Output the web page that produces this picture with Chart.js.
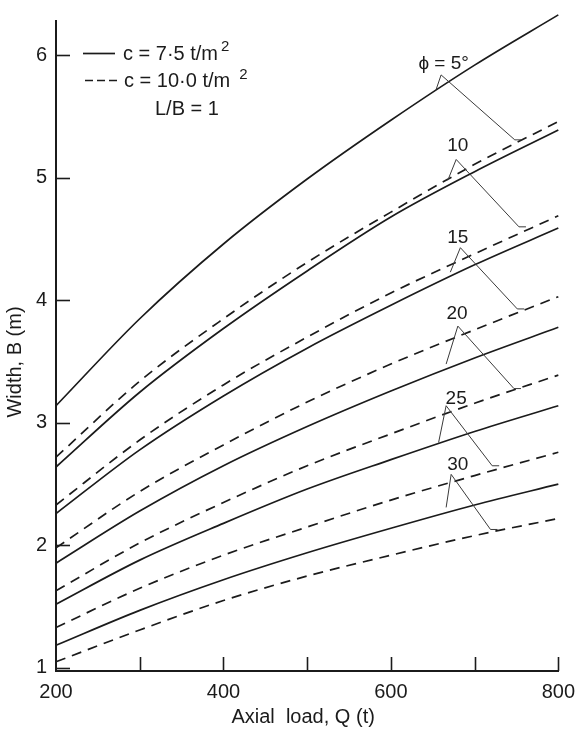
<!DOCTYPE html>
<html>
<head>
<meta charset="utf-8">
<script src="https://cdn.jsdelivr.net/npm/chart.js@4"></script>
<style>
  html, body { margin: 0; padding: 0; background: #fff; }
  #wrap { width: 584px; height: 730px; position: relative; }
</style>
</head>
<body>
<div id="wrap"><canvas id="chart" width="584" height="730"></canvas></div>
<script>
// Axial load Q (t)
const loads = [200, 300, 400, 500, 600, 700, 800];

// Width B (m) for c = 7.5 t/m² (solid lines)
const c75_phi5  = [3.14, 3.85, 4.46, 4.99, 5.47, 5.92, 6.33];
const c75_phi10 = [2.64, 3.25, 3.77, 4.24, 4.68, 5.05, 5.39];
const c75_phi15 = [2.26, 2.78, 3.22, 3.61, 3.96, 4.29, 4.59];
const c75_phi20 = [1.855, 2.28, 2.65, 2.97, 3.26, 3.53, 3.78];
const c75_phi25 = [1.52, 1.88, 2.18, 2.46, 2.70, 2.93, 3.14];
const c75_phi30 = [1.185, 1.47, 1.72, 1.94, 2.14, 2.33, 2.50];

// Width B (m) for c = 10.0 t/m² (dashed lines)
const c10_phi5  = [2.72, 3.34, 3.85, 4.31, 4.72, 5.11, 5.46];
const c10_phi10 = [2.33, 2.86, 3.31, 3.70, 4.06, 4.38, 4.69];
const c10_phi15 = [1.98, 2.44, 2.82, 3.17, 3.48, 3.76, 4.03];
const c10_phi20 = [1.63, 2.02, 2.35, 2.65, 2.91, 3.16, 3.39];
const c10_phi25 = [1.33, 1.65, 1.92, 2.15, 2.37, 2.57, 2.76];
const c10_phi30 = [1.05, 1.31, 1.55, 1.75, 1.92, 2.08, 2.22];

// Tick values
const xTicks = [200, 300, 400, 500, 600, 700, 800];
const xTickLabels = [200, 400, 600, 800];
const yTicks = [1, 2, 3, 4, 5, 6];

// Friction angle labels, one per solid/dashed pair
const phiLabels = ['ϕ = 5°', '10', '15', '20', '25', '30'];

// Leader marks tying each angle label to its solid and dashed curve (in Q, B units)
const leaderLabelAt = [[663, 5.93], [680, 5.26], [680, 4.51], [679, 3.89], [678, 3.20], [680, 2.66]];
const leaderApex    = [[660, 5.84], [678, 5.15], [683, 4.43], [680, 3.79], [666, 3.14], [672, 2.58]];
const leaderSolid   = [[654, 5.72], [668, 4.98], [671, 4.23], [666, 3.48], [657, 2.84], [666, 2.31]];
const leaderDashed  = [[748, 5.31], [753, 4.60], [751, 3.93], [747, 3.28], [721, 2.65], [719, 2.13]];

const solidSeries  = [c75_phi5, c75_phi10, c75_phi15, c75_phi20, c75_phi25, c75_phi30];
const dashedSeries = [c10_phi5, c10_phi10, c10_phi15, c10_phi20, c10_phi25, c10_phi30];

const INK = '#1b1b1b';
const FONT = '"Liberation Sans", Arial, sans-serif';

function toPoints(values) {
  return loads.map((q, i) => ({ x: q, y: values[i] }));
}

const datasets = [];
solidSeries.forEach((s, i) => datasets.push({
  label: 'c=7.5 t/m², φ=' + [5, 10, 15, 20, 25, 30][i],
  data: toPoints(s),
  borderColor: INK, borderWidth: 1.7, borderDash: [],
  pointRadius: 0, fill: false, cubicInterpolationMode: 'monotone', clip: false
}));
dashedSeries.forEach((s, i) => datasets.push({
  label: 'c=10.0 t/m², φ=' + [5, 10, 15, 20, 25, 30][i],
  data: toPoints(s),
  borderColor: INK, borderWidth: 1.7, borderDash: [10, 7],
  pointRadius: 0, fill: false, cubicInterpolationMode: 'monotone', clip: false
}));

function seg(ctx, x1, y1, x2, y2) {
  ctx.beginPath(); ctx.moveTo(x1, y1); ctx.lineTo(x2, y2); ctx.stroke();
}

// Inward tick marks on both axes
const inwardTicks = {
  id: 'inwardTicks',
  afterDraw(chart) {
    const { ctx, chartArea: a, scales: { x, y } } = chart;
    ctx.save();
    ctx.strokeStyle = INK; ctx.lineWidth = 1.6;
    xTicks.forEach(v => {
      if (v === x.min) return;
      const px = Math.round(x.getPixelForValue(v)) + 0.5;
      seg(ctx, px, a.bottom, px, a.bottom - 14);
    });
    yTicks.forEach(v => {
      const py = Math.round(y.getPixelForValue(v)) + 0.5;
      seg(ctx, a.left, py, a.left + 14, py);
    });
    ctx.restore();
  }
};

// Angle labels with their leader lines
const leaders = {
  id: 'leaders',
  afterDatasetsDraw(chart) {
    const { ctx, scales: { x, y } } = chart;
    const P = ([q, b]) => [x.getPixelForValue(q), y.getPixelForValue(b)];
    ctx.save();
    ctx.strokeStyle = '#3a3a3a'; ctx.lineWidth = 1;
    ctx.fillStyle = INK;
    ctx.font = '19px ' + FONT;
    ctx.textAlign = 'center'; ctx.textBaseline = 'middle';
    phiLabels.forEach((t, i) => {
      const [lx, ly] = P(leaderLabelAt[i]);
      const [ax, ay] = P(leaderApex[i]);
      const [sx, sy] = P(leaderSolid[i]);
      const [dx, dy] = P(leaderDashed[i]);
      seg(ctx, ax, ay, sx, sy);
      seg(ctx, ax, ay, dx, dy);
      seg(ctx, dx, dy, dx + 7, dy);
      ctx.fillText(t, lx, ly);
    });
    ctx.restore();
  }
};

// Line-style key and axis titles
const keyAndTitles = {
  id: 'keyAndTitles',
  afterDraw(chart) {
    const { ctx, chartArea: a } = chart;
    ctx.save();
    ctx.strokeStyle = INK; ctx.fillStyle = INK; ctx.lineWidth = 1.7;
    const x0 = a.left + 27;
    // solid key
    seg(ctx, x0, 53.5, x0 + 32, 53.5);
    // dashed key
    ctx.setLineDash([8, 4]);
    seg(ctx, x0 + 2, 80.5, x0 + 35, 80.5);
    ctx.setLineDash([]);
    ctx.textAlign = 'left'; ctx.textBaseline = 'alphabetic';
    ctx.font = '20px ' + FONT;
    const t1 = 'c = 7·5 t/m';
    ctx.fillText(t1, x0 + 40, 60);
    let w = ctx.measureText(t1).width;
    ctx.font = '15px ' + FONT;
    ctx.fillText('2', x0 + 40 + w + 3, 51);
    ctx.font = '20px ' + FONT;
    const t2 = 'c = 10·0 t/m';
    ctx.fillText(t2, x0 + 41, 87);
    w = ctx.measureText(t2).width;
    ctx.font = '15px ' + FONT;
    ctx.fillText('2', x0 + 41 + w + 9, 79);
    ctx.font = '20px ' + FONT;
    ctx.fillText('L/B = 1', x0 + 72, 115);

    // axis titles
    ctx.textAlign = 'center'; ctx.textBaseline = 'middle';
    ctx.font = '20px ' + FONT;
    ctx.fillText('Axial  load, Q (t)', (a.left + a.right) / 2 - 4, 717);
    ctx.translate(15, (a.top + a.bottom) / 2 + 16);
    ctx.rotate(-Math.PI / 2);
    ctx.fillText('Width, B (m)', 0, 0);
    ctx.restore();
  }
};

new Chart(document.getElementById('chart'), {
  type: 'line',
  data: { datasets },
  options: {
    responsive: false,
    animation: false,
    events: [],
    layout: { padding: { top: 13, right: 17, left: 0, bottom: 0 } },
    plugins: { legend: { display: false }, tooltip: { enabled: false } },
    scales: {
      x: {
        type: 'linear', min: 200, max: 800,
        afterBuildTicks: s => { s.ticks = xTickLabels.map(v => ({ value: v })); },
        afterFit: s => { s.height = 59; },
        grid: { drawOnChartArea: false, drawTicks: false },
        border: { display: true, color: INK, width: 2 },
        ticks: { color: INK, font: { family: FONT, size: 20 }, padding: 9, maxRotation: 0 }
      },
      y: {
        type: 'linear', min: 0.975, max: 6.28,
        afterBuildTicks: s => { s.ticks = yTicks.map(v => ({ value: v })); },
        afterFit: s => { s.width = 56; },
        grid: { drawOnChartArea: false, drawTicks: false },
        border: { display: true, color: INK, width: 2 },
        ticks: { color: INK, font: { family: FONT, size: 20 }, padding: 9 }
      }
    }
  },
  plugins: [inwardTicks, leaders, keyAndTitles]
});
</script>
</body>
</html>
